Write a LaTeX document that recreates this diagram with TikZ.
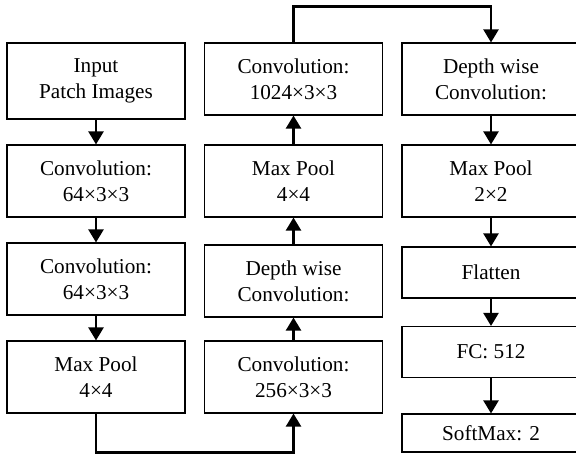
\documentclass[tikz,border=0pt]{standalone}
\usepackage{fontspec}
\setmainfont{Liberation Serif}
\usetikzlibrary{arrows.meta}

\begin{document}
\begin{tikzpicture}[
        x=0.5pt, y=-0.5pt,
        every node/.style={font=\fontsize{10.6}{13}\selectfont, align=center},
        layer/.style={draw, line width=0.55pt, rectangle, minimum width=89pt, minimum height=36pt, inner sep=0pt},
        layer_small/.style={layer, minimum height=25.5pt},
        link/.style={draw, line width=1.1pt, -{Triangle[width=7.5pt,length=6.5pt]}}
        ]
    \useasboundingbox (0,0) rectangle (576,454);
    % first column
    \node[layer, minimum height=38pt] (input) at (96,81) {Input\\Patch Images};
    \node[layer] (conv1) at (96,181) {Convolution:\\64×3×3};
    \node[layer] (conv2) at (96,279) {Convolution:\\64×3×3};
    \node[layer] (pool1) at (96,377) {Max Pool\\4×4};
    % second column
    \node[layer] (conv3) at (293.5,377) {Convolution:\\256×3×3};
    \node[layer] (dwconv1) at (293.5,281) {Depth wise\\Convolution:};
    \node[layer] (pool2) at (293.5,181) {Max Pool\\4×4};
    \node[layer] (conv4) at (293.5,79) {Convolution:\\1024×3×3};
    % third column
    \node[layer] (dwconv2) at (491,79) {Depth wise\\Convolution:};
    \node[layer] (pool3) at (491,181) {Max Pool\\2×2};
    \node[layer_small] (flatten) at (491,272.5) {Flatten};
    \node[layer_small] (fc) at (491,352) {FC: 512};
    \node[layer, minimum height=19pt] (softmax) at (491,433) {SoftMax: 2};

    \draw[link] (input) -- (conv1);
    \draw[link] (conv1) -- (conv2);
    \draw[link] (conv2) -- (pool1);
    \draw[link] (pool1.south) -- ++(0,39) -| (conv3.south);
    \draw[link] (conv3) -- (dwconv1);
    \draw[link] (dwconv1) -- (pool2);
    \draw[link] (pool2) -- (conv4);
    \draw[link] (conv4.north) -- ++(0,-36) -| (dwconv2.north);
    \draw[link] (dwconv2) -- (pool3);
    \draw[link] (pool3) -- (flatten);
    \draw[link] (flatten) -- (fc);
    \draw[link] (fc) -- (softmax);
\end{tikzpicture}
\end{document}
